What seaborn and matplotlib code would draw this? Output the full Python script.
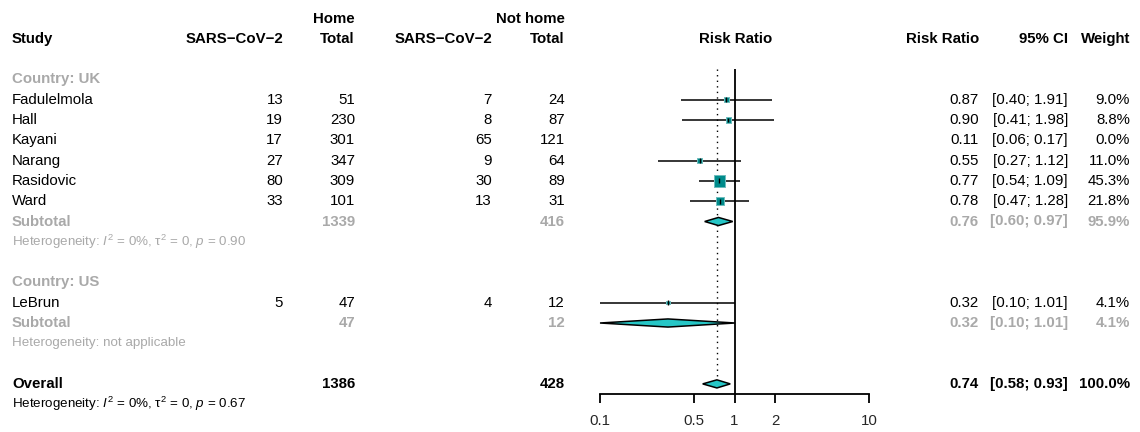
import numpy as np
import pandas as pd
import matplotlib
matplotlib.use("Agg")
import matplotlib.pyplot as plt
from matplotlib.patches import Polygon
import seaborn as sns

# ---- study-level data -------------------------------------------------------
study = ["Fadulelmola", "Hall", "Kayani", "Narang", "Rasidovic", "Ward", "LeBrun"]
country = ["UK", "UK", "UK", "UK", "UK", "UK", "US"]
home_events = [13, 19, 17, 27, 80, 33, 5]
home_total = [51, 230, 301, 347, 309, 101, 47]
away_events = [7, 8, 65, 9, 30, 13, 4]
away_total = [24, 87, 121, 64, 89, 31, 12]
rr = [0.87, 0.90, 0.11, 0.55, 0.77, 0.78, 0.32]
ci_lo = [0.40, 0.41, 0.06, 0.27, 0.54, 0.47, 0.10]
ci_hi = [1.91, 1.98, 0.17, 1.12, 1.09, 1.28, 1.01]
weight = [9.0, 8.8, 0.0, 11.0, 45.3, 21.8, 4.1]

# ---- subgroup pooled estimates ---------------------------------------------
groups = ["UK", "US"]
sub_home_total = [1339, 47]
sub_away_total = [416, 12]
sub_rr = [0.76, 0.32]
sub_lo = [0.60, 0.10]
sub_hi = [0.97, 1.01]
sub_weight = [95.9, 4.1]
sub_het = ["Heterogeneity: $\\mathit{I}^2$ = 0%, \u03c4$^2$ = 0, $\\mathit{p}$ = 0.90",
           "Heterogeneity: not applicable"]

# ---- overall pooled estimate ------------------------------------------------
overall_home_total = 1386
overall_away_total = 428
overall_rr = 0.74
overall_lo = 0.58
overall_hi = 0.93
overall_weight = 100.0
overall_het = "Heterogeneity: $\\mathit{I}^2$ = 0%, \u03c4$^2$ = 0, $\\mathit{p}$ = 0.67"

ticks = [0.1, 0.5, 1, 2, 10]
tick_labels = ["0.1", "0.5", "1", "2", "10"]

# ---- styling ---------------------------------------------------------------
sns.set_theme(style="white")
FONT = "Liberation Sans"
plt.rcParams["font.family"] = [FONT, "DejaVu Sans"]
plt.rcParams["mathtext.fontset"] = "custom"
plt.rcParams["mathtext.rm"] = FONT
plt.rcParams["mathtext.it"] = FONT + ":italic"
plt.rcParams["mathtext.bf"] = FONT + ":bold"

FS = 10.8
FS_SMALL = 9.6
GREY = "#A9A9A9"
SQUARE = "#008B8B"
DIAMOND = "#26C6C6"

W_PX, H_PX, DPI = 1140, 432, 100
ROW0, ROWH = 79.4, 20.3          # pixel centre of first row, row pitch


def px_to_row(y):
    return (y - ROW0) / ROWH


# column anchors (pixels)
X_STUDY = 12
X_HE, X_HT, X_AE, X_AT = 283, 355, 492, 565
X_RR, X_CI, X_W = 979, 1068, 1130
PLOT_L, PLOT_R = 600, 869
PLOT_TOP, PLOT_BOT = 69, 394

fig = plt.figure(figsize=(W_PX / DPI, H_PX / DPI), dpi=DPI)

# text layer spanning the whole figure, in row units vertically
tx = fig.add_axes([0, 0, 1, 1])
tx.set_xlim(0, W_PX)
tx.set_ylim(px_to_row(H_PX), px_to_row(0))
tx.axis("off")


def put(x, r, s, ha="left", bold=False, color="black", size=FS):
    tx.text(x, r, s, ha=ha, va="center", fontsize=size, color=color,
            fontweight="bold" if bold else "normal")


# headers
put(X_HT, -3, "Home", ha="right", bold=True)
put(X_AT, -3, "Not home", ha="right", bold=True)
put(X_STUDY, -2, "Study", bold=True)
put(X_HE, -2, "SARS\u2212CoV\u22122", ha="right", bold=True)
put(X_HT, -2, "Total", ha="right", bold=True)
put(X_AE, -2, "SARS\u2212CoV\u22122", ha="right", bold=True)
put(X_AT, -2, "Total", ha="right", bold=True)
put((PLOT_L + PLOT_R) / 2 + 1, -2, "Risk Ratio", ha="center", bold=True)
put(X_RR, -2, "Risk Ratio", ha="right", bold=True)
put(X_CI, -2, "95% CI", ha="right", bold=True)
put(X_W, -2, "Weight", ha="right", bold=True)

# assign rows
study_rows = []
sub_rows = []
r = 0
for gi, g in enumerate(groups):
    put(X_STUDY, r, f"Country: {g}", bold=True, color=GREY)
    r += 1
    for i, c in enumerate(country):
        if c != g:
            continue
        study_rows.append((i, r))
        put(X_STUDY, r, study[i])
        put(X_HE, r, str(home_events[i]), ha="right")
        put(X_HT, r, str(home_total[i]), ha="right")
        put(X_AE, r, str(away_events[i]), ha="right")
        put(X_AT, r, str(away_total[i]), ha="right")
        put(X_RR, r, f"{rr[i]:.2f}", ha="right")
        put(X_CI, r, f"[{ci_lo[i]:.2f}; {ci_hi[i]:.2f}]", ha="right")
        put(X_W, r, f"{weight[i]:.1f}%", ha="right")
        r += 1
    sub_rows.append(r)
    put(X_STUDY, r, "Subtotal", bold=True, color=GREY)
    put(X_HT, r, str(sub_home_total[gi]), ha="right", bold=True, color=GREY)
    put(X_AT, r, str(sub_away_total[gi]), ha="right", bold=True, color=GREY)
    put(X_RR, r, f"{sub_rr[gi]:.2f}", ha="right", bold=True, color=GREY)
    put(X_CI, r, f"[{sub_lo[gi]:.2f}; {sub_hi[gi]:.2f}]", ha="right", bold=True, color=GREY)
    put(X_W, r, f"{sub_weight[gi]:.1f}%", ha="right", bold=True, color=GREY)
    r += 1
    put(X_STUDY, r, sub_het[gi], color=GREY, size=FS_SMALL)
    r += 2

overall_row = r
put(X_STUDY, r, "Overall", bold=True)
put(X_HT, r, str(overall_home_total), ha="right", bold=True)
put(X_AT, r, str(overall_away_total), ha="right", bold=True)
put(X_RR, r, f"{overall_rr:.2f}", ha="right", bold=True)
put(X_CI, r, f"[{overall_lo:.2f}; {overall_hi:.2f}]", ha="right", bold=True)
put(X_W, r, f"{overall_weight:.1f}%", ha="right", bold=True)
put(X_STUDY, r + 1, overall_het, size=FS_SMALL)

# ---- forest panel -----------------------------------------------------------
ax = fig.add_axes([PLOT_L / W_PX, (H_PX - PLOT_BOT) / H_PX,
                   (PLOT_R - PLOT_L) / W_PX, (PLOT_BOT - PLOT_TOP) / H_PX])
ax.patch.set_visible(False)
ax.set_xscale("log")
ax.set_xlim(ticks[0], ticks[-1])
ax.set_ylim(px_to_row(PLOT_BOT), px_to_row(PLOT_TOP))
for side in ("top", "left", "right"):
    ax.spines[side].set_visible(False)
ax.spines["bottom"].set_linewidth(1.3)
ax.spines["bottom"].set_color("black")

top_row = px_to_row(PLOT_TOP)
ax.axvline(1, color="black", lw=1.3, zorder=2)
ax.vlines(overall_rr, top_row, overall_row - 0.2, color="black", lw=1.0,
          linestyles=(0, (1, 3)), zorder=1)

# study estimates: CI whiskers, weight-scaled squares, centre ticks
df = pd.DataFrame({
    "rr": [rr[i] for i, _ in study_rows],
    "lo": [ci_lo[i] for i, _ in study_rows],
    "hi": [ci_hi[i] for i, _ in study_rows],
    "weight": [weight[i] for i, _ in study_rows],
    "row": [rw for _, rw in study_rows],
})
shown = df[df["weight"] > 0]
ax.hlines(shown["row"], shown["lo"], shown["hi"], color="black", lw=1.1, zorder=3)
sns.scatterplot(data=shown, x="rr", y="row", size="weight", sizes=(0, 68),
                size_norm=(0, max(weight)), marker="s", color=SQUARE,
                edgecolor="#6FBDBD", linewidth=0.7, legend=False, ax=ax,
                zorder=4, clip_on=False)
ax.vlines(shown["rr"], shown["row"] - 0.12, shown["row"] + 0.12,
          color="black", lw=1.0, zorder=5)


def diamond(est, lo, hi, row, h=0.2):
    verts = [(lo, row), (est, row - h), (hi, row), (est, row + h)]
    ax.add_patch(Polygon(verts, closed=True, facecolor=DIAMOND,
                         edgecolor="black", lw=1.1, zorder=4, clip_on=False))


for gi, rw in enumerate(sub_rows):
    diamond(sub_rr[gi], sub_lo[gi], sub_hi[gi], rw)
diamond(overall_rr, overall_lo, overall_hi, overall_row)

ax.set_xlabel("")
ax.set_ylabel("")
ax.set_yticks([])
ax.set_xlim(ticks[0], ticks[-1])
ax.set_ylim(px_to_row(PLOT_BOT), px_to_row(PLOT_TOP))
ax.set_xticks(ticks)
ax.set_xticklabels(tick_labels)
ax.xaxis.set_minor_locator(matplotlib.ticker.NullLocator())
ax.tick_params(axis="x", direction="out", length=6.5, width=1.3, color="black",
               pad=8, labelsize=FS, bottom=True)

fig.savefig("out.png", dpi=DPI)
